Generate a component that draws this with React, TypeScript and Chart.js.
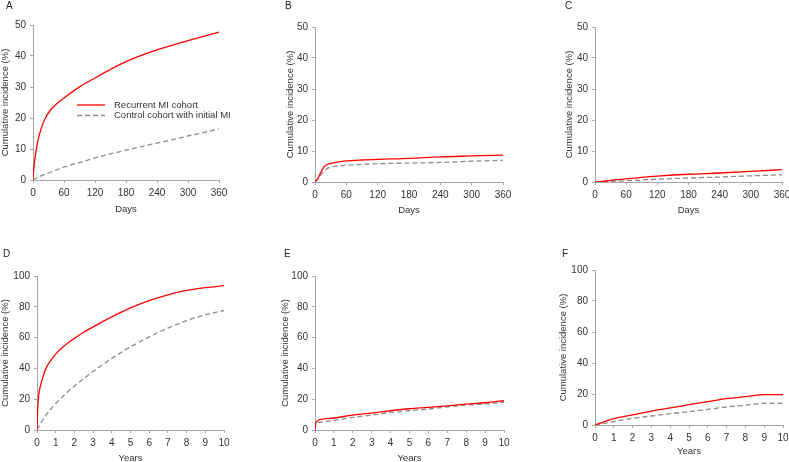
import React, { useEffect, useRef } from "react";
import { Chart, registerables } from "chart.js";
Chart.register(...registerables);

// ---------- data ----------
const LABEL_RECURRENT = "Recurrent MI cohort";
const LABEL_CONTROL = "Control cohort with initial MI";
const Y_TITLE = "Cumulative incidence (%)";

const daysA = [0, 1.3, 3, 6.5, 9.5, 13, 18, 24, 33.5, 46, 62.6, 91.6, 120, 150, 180, 210, 240, 270, 300, 330, 360];
const recurrentA = [0, 3.2, 6, 10, 12.7, 15, 17.7, 20, 22.5, 24.6, 26.8, 30.2, 32.9, 35.7, 38.2, 40.2, 41.95, 43.5, 44.95, 46.35, 47.7];
const controlA = [0, 0.1, 0.25, 0.55, 0.8, 1.1, 1.5, 1.9, 2.5, 3.3, 4.3, 5.7, 7.1, 8.4, 9.6, 10.8, 11.9, 13, 14.2, 15.3, 16.5];

const daysB = [0, 5, 10, 15, 20, 30, 45, 60, 90, 120, 180, 240, 300, 360];
const recurrentB = [0, 1, 2.7, 4.3, 5.3, 6.0, 6.5, 6.8, 7.1, 7.3, 7.6, 8.1, 8.4, 8.7];
const controlB = [0, 0.8, 2.0, 3.2, 4.0, 4.8, 5.2, 5.4, 5.7, 5.9, 6.1, 6.3, 6.7, 7.0];

const daysC = [0, 10, 30, 60, 90, 120, 180, 240, 300, 360];
const recurrentC = [0, 0.1, 0.5, 1.0, 1.5, 1.9, 2.5, 2.9, 3.4, 4.0];
const controlC = [0, 0.05, 0.2, 0.4, 0.65, 0.9, 1.3, 1.6, 2.0, 2.3];

const yearsDRecurrent = [0, 0.02, 0.04, 0.07, 0.12, 0.21, 0.33, 0.5, 0.7, 1, 1.4, 2, 2.5, 3, 4, 5, 6, 7, 8, 9, 10];
const recurrentD = [0, 8, 14, 20, 25, 30, 35, 40.5, 44.5, 49.3, 54, 59.5, 63.5, 67, 73.5, 79.3, 84, 87.8, 90.6, 92.4, 93.7];
const yearsDControl = [0, 0.1, 0.25, 0.5, 0.75, 1, 1.5, 2, 2.5, 3, 4, 5, 6, 7, 8, 9, 10];
const controlD = [0, 2.3, 5.5, 10, 13.8, 17.2, 23.2, 28.5, 33.4, 38, 46.5, 54, 60.5, 66.2, 71, 74.8, 77.6];

const yearsE = [0, 0.03, 0.1, 0.2, 0.5, 1, 2, 3, 4, 5, 6, 7, 8, 9, 10];
const recurrentE = [0, 4, 5.5, 6.5, 7.2, 7.8, 9.7, 11, 12.5, 13.8, 14.7, 15.7, 16.8, 17.7, 19];
const controlE = [0, 2.5, 4, 4.8, 5.5, 6.3, 8.2, 9.7, 11.4, 12.5, 13.6, 15, 16.2, 17, 17.9];

const yearsF = [0, 0.5, 1, 2, 3, 4, 5, 6, 7, 8, 9, 10];
const recurrentF = [0, 2.2, 4.1, 6.5, 9, 11, 13.1, 15.1, 17, 18.3, 19.6, 19.6];
const controlF = [0, 1.1, 2.2, 4.3, 5.8, 7.3, 8.6, 10.1, 11.6, 12.7, 14, 14];

// ---------- styles ----------
const FONT = "Arial, 'Liberation Sans', sans-serif";
const RED = "#ff0000";
const GREY = "#8c8c8c";
const AXIS = "#a6a6a6";
const TEXT = "#333333";
const FS = 9.5;
const TICK_FS = 10;

type Cfg = {
  letter: string;
  xsRec: number[];
  rec: number[];
  xsCtl: number[];
  ctl: number[];
  xMax: number;
  xStep: number;
  yMax: number;
  yStep: number;
  xTitle: string;
  x0: number;
  y0: number;
  L: number;
  R: number;
  T: number;
  B: number;
  yTitleX: number;
  xTitleY: number;
  letterX: number;
  letterY: number;
  legend?: boolean;
};

const panels: Cfg[] = [
  { letter: "A", xsRec: daysA, rec: recurrentA, xsCtl: daysA, ctl: controlA, xMax: 360, xStep: 60, yMax: 50, yStep: 10, xTitle: "Days",
    x0: -2, y0: 0, L: 33, R: 219, T: 25, B: 180, yTitleX: 5, xTitleY: 209, letterX: 10, letterY: 6, legend: true },
  { letter: "B", xsRec: daysB, rec: recurrentB, xsCtl: daysB, ctl: controlB, xMax: 360, xStep: 60, yMax: 50, yStep: 10, xTitle: "Days",
    x0: 283, y0: 0, L: 315, R: 503, T: 27, B: 182, yTitleX: 290, xTitleY: 210, letterX: 289, letterY: 6 },
  { letter: "C", xsRec: daysC, rec: recurrentC, xsCtl: daysC, ctl: controlC, xMax: 360, xStep: 60, yMax: 50, yStep: 10, xTitle: "Days",
    x0: 562, y0: 0, L: 595, R: 782, T: 27, B: 182, yTitleX: 569, xTitleY: 210, letterX: 569, letterY: 6 },
  { letter: "D", xsRec: yearsDRecurrent, rec: recurrentD, xsCtl: yearsDControl, ctl: controlD, xMax: 10, xStep: 1, yMax: 100, yStep: 20, xTitle: "Years",
    x0: -2, y0: 240, L: 37, R: 224, T: 276, B: 430, yTitleX: 5, xTitleY: 458, letterX: 7, letterY: 254 },
  { letter: "E", xsRec: yearsE, rec: recurrentE, xsCtl: yearsE, ctl: controlE, xMax: 10, xStep: 1, yMax: 100, yStep: 20, xTitle: "Years",
    x0: 278, y0: 240, L: 315, R: 504, T: 276, B: 430, yTitleX: 285, xTitleY: 458, letterX: 288, letterY: 254 },
  { letter: "F", xsRec: yearsF, rec: recurrentF, xsCtl: yearsF, ctl: controlF, xMax: 10, xStep: 1, yMax: 100, yStep: 20, xTitle: "Years",
    x0: 556, y0: 240, L: 595, R: 783, T: 270, B: 425, yTitleX: 563, xTitleY: 451, letterX: 566, letterY: 254 },
];

const legendPlugin = {
  id: "insideLegend",
  afterDraw(chart: any) {
    const ca = chart.chartArea;
    const ctx = chart.ctx;
    const ds = chart.data.datasets;
    const rows = [ca.top + 80, ca.top + 90.5];
    ctx.save();
    ctx.font = `${FS}px ${FONT}`;
    ctx.textBaseline = "middle";
    ctx.textAlign = "left";
    ds.forEach((d: any, i: number) => {
      const y = rows[i];
      ctx.beginPath();
      ctx.strokeStyle = d.borderColor;
      ctx.lineWidth = d.borderWidth;
      ctx.setLineDash(d.borderDash || []);
      ctx.moveTo(ca.left + 44, y);
      ctx.lineTo(ca.left + 72, y);
      ctx.stroke();
      ctx.setLineDash([]);
      ctx.fillStyle = TEXT;
      ctx.fillText(d.label, ca.left + 81, y);
    });
    ctx.restore();
  },
};

function geometry(c: Cfg) {
  const lh = FS * 1.2;
  const x1 = c.R + 25;
  const y1 = c.xTitleY + 12;
  const W = x1 - c.x0;
  const H = y1 - c.y0;
  const padLeft = Math.max(0, c.yTitleX - c.x0 - lh / 2);
  const yW = c.L - c.x0 - padLeft;
  const padTop = c.T - c.y0;
  const padRight = x1 - c.R;
  const padBottom = y1 - c.xTitleY - lh / 2;
  const xH = y1 - padBottom - c.B;
  return { W, H, padLeft, yW, padTop, padRight, padBottom, xH };
}

function Panel({ c }: { c: Cfg }) {
  const ref = useRef<HTMLCanvasElement>(null);
  const g = geometry(c);
  useEffect(() => {
    if (!ref.current) return;
    const axisCommon = {
      type: "linear" as const,
      min: 0,
      grid: { display: true, drawOnChartArea: false, drawTicks: true, tickLength: 3, color: AXIS, lineWidth: 1 },
      border: { display: true, color: AXIS, width: 1 },
    };
    const chart = new Chart(ref.current, {
      type: "line",
      data: {
        datasets: [
          {
            label: LABEL_RECURRENT,
            data: c.xsRec.map((x, i) => ({ x, y: c.rec[i] })),
            borderColor: RED,
            borderWidth: 1.3,
            pointRadius: 0,
            fill: false,
            cubicInterpolationMode: "monotone",
          },
          {
            label: LABEL_CONTROL,
            data: c.xsCtl.map((x, i) => ({ x, y: c.ctl[i] })),
            borderColor: GREY,
            borderWidth: 1.3,
            borderDash: [5, 3],
            pointRadius: 0,
            fill: false,
            cubicInterpolationMode: "monotone",
          },
        ],
      },
      options: {
        animation: false,
        responsive: true,
        maintainAspectRatio: false,
        layout: { padding: { left: g.padLeft, top: g.padTop, right: g.padRight, bottom: g.padBottom } },
        plugins: { legend: { display: false }, tooltip: { enabled: false } },
        scales: {
          x: {
            ...axisCommon,
            max: c.xMax,
            ticks: { stepSize: c.xStep, color: TEXT, font: { family: FONT, size: TICK_FS }, padding: 4, maxRotation: 0, autoSkip: false },
            title: { display: true, text: c.xTitle, color: TEXT, font: { family: FONT, size: FS }, padding: 0 },
            afterFit: (s: any) => { s.height = g.xH; },
          },
          y: {
            ...axisCommon,
            max: c.yMax,
            ticks: { stepSize: c.yStep, color: TEXT, font: { family: FONT, size: TICK_FS }, padding: 4 },
            title: { display: true, text: Y_TITLE, color: TEXT, font: { family: FONT, size: FS }, padding: 0 },
            afterFit: (s: any) => { s.width = g.yW; },
          },
        },
      } as any,
      plugins: c.legend ? [legendPlugin] : [],
    });
    return () => chart.destroy();
  }, []);
  return (
    <>
      <div style={{ position: "absolute", left: c.x0, top: c.y0, width: g.W, height: g.H }}>
        <canvas ref={ref} />
      </div>
      <div
        style={{
          position: "absolute",
          left: c.letterX - 4,
          top: c.letterY - 6,
          fontFamily: FONT,
          fontSize: 10,
          lineHeight: "12px",
          color: "#222",
        }}
      >
        {c.letter}
      </div>
    </>
  );
}

export default function App() {
  return (
    <div
      style={{
        position: "fixed",
        left: 0,
        top: 0,
        width: 789,
        height: 462,
        overflow: "hidden",
        background: "#fff",
      }}
    >
      {panels.map((c) => (
        <Panel key={c.letter} c={c} />
      ))}
    </div>
  );
}
